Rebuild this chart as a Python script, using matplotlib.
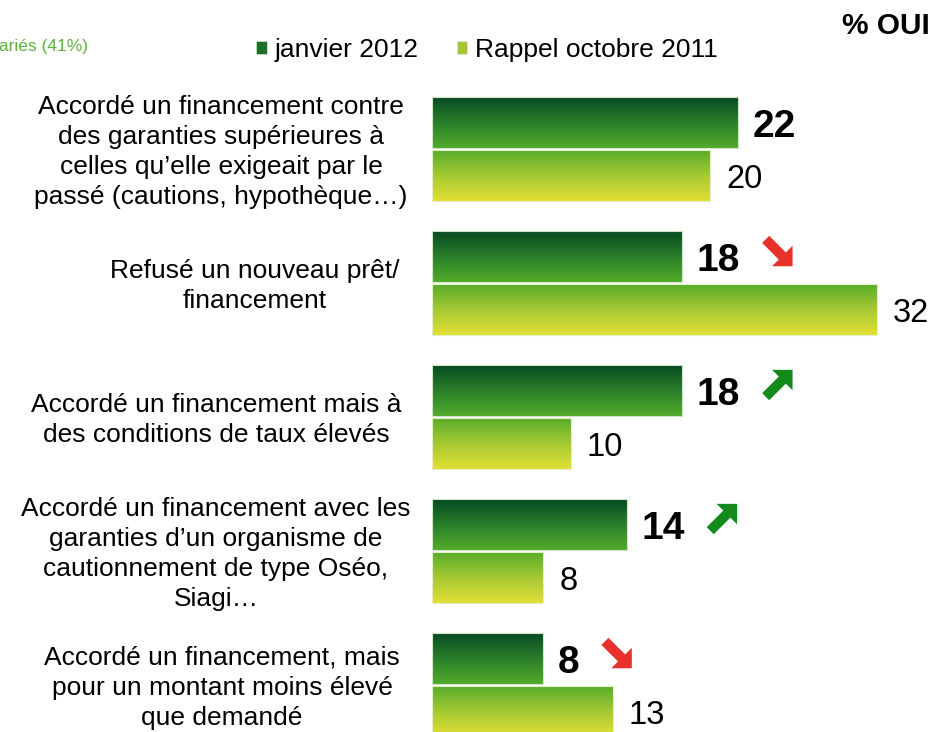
import numpy as np
import matplotlib
matplotlib.use("Agg")
import matplotlib.pyplot as plt
from matplotlib.colors import LinearSegmentedColormap
from matplotlib.patches import Polygon, Patch
from matplotlib.transforms import IdentityTransform

plt.rcParams['font.family'] = ['Liberation Sans', 'DejaVu Sans']

# ---------------- data ----------------
categories = [
    "Accordé un financement contre\ndes garanties supérieures à\ncelles qu’elle exigeait par le\npassé (cautions, hypothèque…)",
    "Refusé un nouveau prêt/\nfinancement",
    "Accordé un financement mais à\ndes conditions de taux élevés",
    "Accordé un financement avec les\ngaranties d’un organisme de\ncautionnement de type Oséo,\nSiagi…",
    "Accordé un financement, mais\npour un montant moins élevé\nque demandé",
]
jan_2012 = [22, 18, 18, 14, 8]
oct_2011 = [20, 32, 10, 8, 13]
trend = [None, "down", "up", "up", "down"]
series_names = ["janvier 2012", "Rappel octobre 2011"]

# ---------------- figure ----------------
W, H = 937, 732
fig = plt.figure(figsize=(W / 100, H / 100), dpi=100)
px_per_unit = 13.9
left_px = 432
ax = fig.add_axes([left_px / W, 0, (W - left_px) / W, 1])
top_y = -149 / 134
bot_y = (H - 149) / 134
ax.axis("off")

cmap_dark = LinearSegmentedColormap.from_list("dark", ["#064a22", "#2a7e2a", "#52ab2b"])
cmap_light = LinearSegmentedColormap.from_list("light", ["#58ac2a", "#a6c934", "#e2df35"])
grad = np.linspace(0, 1, 256).reshape(-1, 1)

pos = np.arange(len(categories))
off, h = 0.195, 0.38

bars_dark = ax.barh(pos - off, jan_2012, height=h, facecolor="none",
                    edgecolor="#cfe3c8", linewidth=0.8, zorder=3)
bars_light = ax.barh(pos + off, oct_2011, height=h, facecolor="none",
                     edgecolor="#e4efc8", linewidth=0.8, zorder=3)

for bars, cmap in ((bars_dark, cmap_dark), (bars_light, cmap_light)):
    for b in bars:
        x0, y0 = b.get_x(), b.get_y()
        w, hh = b.get_width(), b.get_height()
        im = ax.imshow(grad, cmap=cmap, aspect="auto", origin="upper",
                       extent=(x0, x0 + w, y0 + hh, y0), zorder=2,
                       interpolation="bilinear")
        im.set_clip_path(b)

ax.set_xlim(0, (W - left_px) / px_per_unit)
ax.set_ylim(bot_y, top_y)

# value labels
dark_labels = []
for p, v in zip(pos, jan_2012):
    t = ax.annotate(str(v), (v, p - off), xytext=(10.5, -3), textcoords="offset points",
                    ha="left", va="center", fontsize=28, fontweight="bold", color="black")
    dark_labels.append(t)
for p, v in zip(pos, oct_2011):
    ax.annotate(str(v), (v, p + off), xytext=(11.5, -3.5), textcoords="offset points",
                ha="left", va="center", fontsize=23.5, color="black")

# category labels
label_x_px = [221, 255, 216, 216, 222]
for p, cat, lx in zip(pos, categories, label_x_px):
    yd = ax.transData.transform((0, p))[1] - 3
    fig.text(lx / W, yd / H, cat, ha="center", va="center", multialignment="center",
             fontsize=19, linespacing=1.33, color="black")

# trend arrows
fig.canvas.draw()
renderer = fig.canvas.get_renderer()
L, sw, hw, hl = 38, 10, 29, 14.5
base = np.array([
    [0, -sw / 2], [L - hl, -sw / 2], [L - hl, -hw / 2], [L, 0],
    [L - hl, hw / 2], [L - hl, sw / 2], [0, sw / 2]
])
for lab, tr in zip(dark_labels, trend):
    if tr is None:
        continue
    ang = np.deg2rad(-45 if tr == "down" else 45)
    R = np.array([[np.cos(ang), -np.sin(ang)], [np.sin(ang), np.cos(ang)]])
    pts = base @ R.T
    bb = lab.get_window_extent(renderer)
    cx = bb.x1 + 22 - pts[:, 0].min()
    cy = (bb.y0 + bb.y1) / 2 + 10 - (pts[:, 1].min() + pts[:, 1].max()) / 2
    pts = pts + np.array([cx, cy])
    col = "#e8302c" if tr == "down" else "#148a1c"
    fig.add_artist(Polygon(pts, closed=True, facecolor=col, edgecolor="none",
                           transform=IdentityTransform()))

# legend
handles = [Patch(facecolor="#1f6e28", edgecolor="#cfe3c8", linewidth=0.6),
           Patch(facecolor="#a3c834", edgecolor="#e4efc8", linewidth=0.6)]
fig.legend(handles, series_names, loc="center left", bbox_to_anchor=(256 / W, 1 - 50 / H),
           ncol=2, frameon=False, fontsize=19, handlelength=0.4, handleheight=0.4,
           handletextpad=0.3, columnspacing=1.45, borderpad=0, borderaxespad=0)

# header texts
fig.text(930 / W, 1 - 26 / H, "% OUI", ha="right", va="center", fontsize=21.5,
         fontweight="bold", color="black")
fig.text(88 / W, 1 - 47 / H, "Base : entreprises ayant des salariés (41%)", ha="right",
         va="center", fontsize=12.5, color="#5db23c")

fig.savefig("out.png", dpi=100)
